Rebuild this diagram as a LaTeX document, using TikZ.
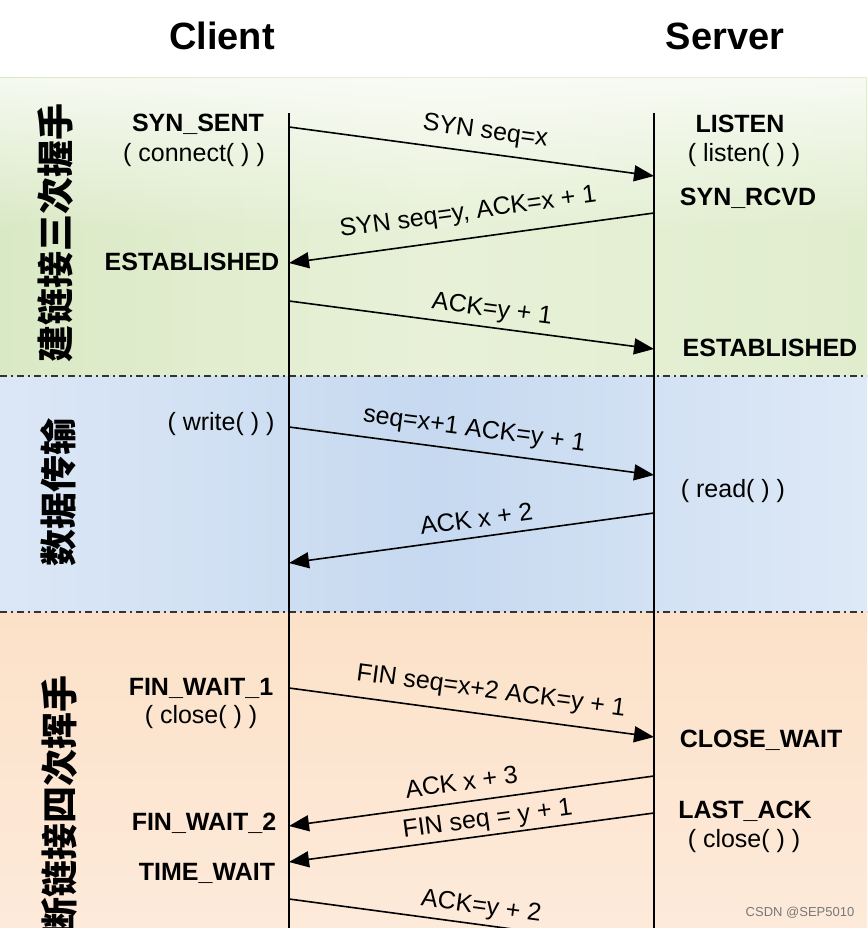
\documentclass[tikz,border=0pt]{standalone}
\usepackage{fontspec}
\setmainfont{Liberation Sans}
\newfontfamily\cjk{Noto Sans CJK SC}
\usetikzlibrary{arrows.meta,fadings}
\definecolor{gL}{RGB}{218,233,197}
\definecolor{gM}{RGB}{232,241,216}
\definecolor{gR}{RGB}{224,237,205}
\definecolor{bL}{RGB}{220,231,246}
\definecolor{bM}{RGB}{198,217,240}
\definecolor{bR}{RGB}{222,233,247}
\definecolor{oT}{RGB}{252,225,200}
\definecolor{oB}{RGB}{253,234,218}
\definecolor{wm}{RGB}{120,120,120}
\tikzset{
  state/.style={font=\fontsize{25}{29}\selectfont\bfseries, inner sep=0pt},
  callbox/.style={font=\fontsize{25}{29}\selectfont, inner sep=0pt},
  lbl/.style={font=\fontsize{25}{29}\selectfont, inner sep=0pt, sloped, text height=18pt, text depth=5pt},
  msg/.style={line width=1.6pt, -{Triangle[length=20pt,width=16pt]}},
  msgback/.style={line width=1.6pt, {Triangle[length=20pt,width=16pt]}-},
  life/.style={line width=2.2pt},
  sepline/.style={line width=1.8pt, dash pattern=on 7pt off 4pt on 2pt off 4pt, black!80},
  head/.style={font=\fontsize{38}{41}\selectfont\bfseries, inner sep=0pt},
  phase/.style={font=\fontsize{37}{40}\selectfont\cjk\bfseries, rotate=90, inner sep=0pt}
}
\begin{document}
\begin{tikzpicture}[x=1pt,y=-1pt]
\useasboundingbox (0,0) rectangle (867,928);
\clip (0,0) rectangle (867,928);
% backgrounds
\fill[white] (0,0) rectangle (867,80);
\shade[left color=gL, right color=gR, middle color=gM] (0,78) rectangle (867,376);
\fill[white, path fading=south, fill opacity=0.75] (0,78) rectangle (867,230);
\shade[left color=bL, right color=bR, middle color=bM] (0,376) rectangle (867,612);
\shade[top color=oT, bottom color=oB] (0,612) rectangle (867,928);
\draw[sepline] (0,376) -- (867,376);
\draw[sepline] (0,612) -- (867,612);
% headers
\node[head] (client) at (222,36) {Client};
\node[head] (server) at (725,36) {Server};
% phase labels
\node[phase] (p1) at (56,233) {建链接三次握手};
\node[phase] (p2) at (58,492) {数据传输};
\node[phase] (p3) at (59,805) {断链接四次挥手};
% lifelines
\coordinate (ctop) at (289,113);
\coordinate (cbot) at (289,930);
\coordinate (stop) at (654,113);
\coordinate (sbot) at (654,930);
\draw[life] (ctop) -- (cbot);
\draw[life] (stop) -- (sbot);
% message end points
\coordinate (c1) at (289,127); \coordinate (s1) at (654,176);
\coordinate (s2) at (654,213); \coordinate (c2) at (289,263);
\coordinate (c3) at (289,301); \coordinate (s3) at (654,349);
\coordinate (c4) at (289,427); \coordinate (s4) at (654,475);
\coordinate (s5) at (654,513); \coordinate (c5) at (289,563);
\coordinate (c6) at (289,688); \coordinate (s6) at (654,737);
\coordinate (s7) at (654,776); \coordinate (c7) at (289,826);
\coordinate (s8) at (654,813); \coordinate (c8) at (289,862);
\coordinate (c9) at (289,899); \coordinate (s9) at (654,948);
% messages
\draw[msg] (c1) -- node[lbl, pos=0.53, above=9pt] {SYN seq=x} (s1);
\draw[msgback] (c2) -- node[lbl, pos=0.5, above=13pt] {SYN seq=y, ACK=x + 1} (s2);
\draw[msg] (c3) -- node[lbl, pos=0.55, above=5pt] {ACK=y + 1} (s3);
\draw[msg] (c4) -- node[lbl, pos=0.5, above=9pt] {seq=x+1 ACK=y + 1} (s4);
\draw[msgback] (c5) -- node[lbl, pos=0.52, above=4pt] {ACK x + 2} (s5);
\draw[msg] (c6) -- node[lbl, pos=0.545, above=11pt] {FIN seq=x+2 ACK=y + 1} (s6);
\draw[msgback] (c7) -- node[lbl, pos=0.48, above=6pt] {ACK x + 3} (s7);
\draw[msgback] (c8) -- node[lbl, pos=0.55, above=3pt] {FIN seq = y + 1} (s8);
\draw[msg] (c9) -- node[lbl, pos=0.52, above=5pt] {ACK=y + 2} (s9);
% client states
\node[state] (ss) at (198,124) {SYN\_SENT};
\node[callbox] (cc) at (194,155) {( connect( ) )};
\node[state] (ce) at (192,262) {ESTABLISHED};
\node[callbox] (cw) at (221,424) {( write( ) )};
\node[state] (f1) at (201,688) {FIN\_WAIT\_1};
\node[callbox] (cl) at (201,717) {( close( ) )};
\node[state] (f2) at (204,823) {FIN\_WAIT\_2};
\node[state] (tw) at (207,873) {TIME\_WAIT};
% server states
\node[state] (li) at (740,124) {LISTEN};
\node[callbox] (sl) at (744,155) {( listen( ) )};
\node[state] (sr) at (748,198) {SYN\_RCVD};
\node[state] (se) at (770,348) {ESTABLISHED};
\node[callbox] (rd) at (733,491) {( read( ) )};
\node[state] (cw2) at (761,740) {CLOSE\_WAIT};
\node[state] (la) at (745,811) {LAST\_ACK};
\node[callbox] (sc) at (744,841) {( close( ) )};
% watermark
\node[font=\fontsize{13}{15}\selectfont, text=wm, inner sep=0pt] (wmk) at (800,913) {CSDN @SEP5010};
\end{tikzpicture}
\end{document}
